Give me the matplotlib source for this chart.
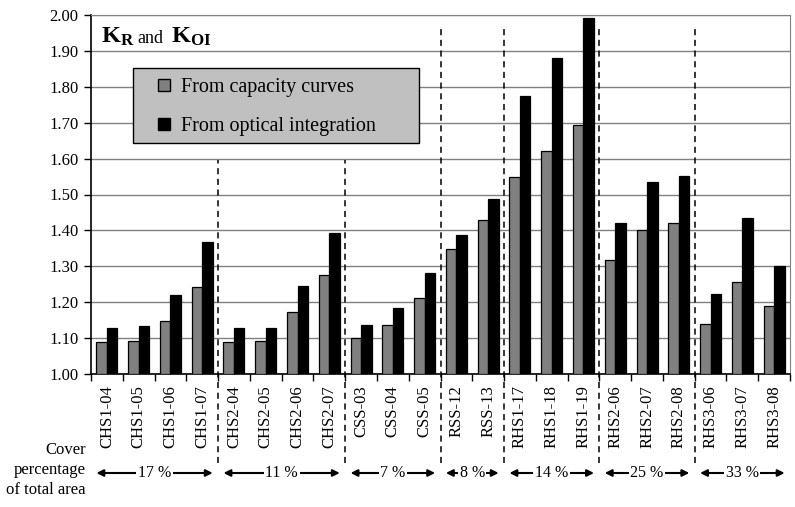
import numpy as np
import matplotlib
matplotlib.use("Agg")
import matplotlib.pyplot as plt
from matplotlib.patches import Rectangle, Patch

plt.rcParams["font.family"] = ["Liberation Serif", "DejaVu Serif"]
plt.rcParams["mathtext.fontset"] = "custom"
plt.rcParams["mathtext.rm"] = "Liberation Serif"
plt.rcParams["mathtext.bf"] = "Liberation Serif:bold"

samples = ["CHS1-04", "CHS1-05", "CHS1-06", "CHS1-07",
           "CHS2-04", "CHS2-05", "CHS2-06", "CHS2-07",
           "CSS-03", "CSS-04", "CSS-05",
           "RSS-12", "RSS-13",
           "RHS1-17", "RHS1-18", "RHS1-19",
           "RHS2-06", "RHS2-07", "RHS2-08",
           "RHS3-06", "RHS3-07", "RHS3-08"]
k_capacity = [1.088, 1.092, 1.147, 1.241,
              1.088, 1.092, 1.172, 1.275,
              1.099, 1.136, 1.212,
              1.348, 1.428,
              1.548, 1.621, 1.694,
              1.318, 1.402, 1.421,
              1.139, 1.256, 1.190]
k_optical = [1.129, 1.133, 1.220, 1.367,
             1.129, 1.129, 1.246, 1.392,
             1.136, 1.184, 1.282,
             1.388, 1.487,
             1.775, 1.881, 1.991,
             1.421, 1.534, 1.552,
             1.224, 1.435, 1.300]
# first sample index, last sample index, cover percentage
group_first = [0, 4, 8, 11, 13, 16, 19]
group_last = [3, 7, 10, 12, 15, 18, 21]
group_cover = ["17 %", "11 %", "7 %", "8 %", "14 %", "25 %", "33 %"]

W, H = 795, 507
fx = lambda px: px / W
fy = lambda py: 1 - py / H

fig = plt.figure(figsize=(7.95, 5.07), dpi=100)
ax = fig.add_axes([fx(91), fy(374), (790 - 91) / W, (374 - 15) / H])

x = np.arange(len(samples))
bw = 0.33
ax.bar(x - bw / 2, np.array(k_capacity) - 1, bw, bottom=1, color="#808080",
       edgecolor="black", linewidth=0.9, zorder=3)
ax.bar(x + bw / 2, np.array(k_optical) - 1, bw, bottom=1, color="black",
       edgecolor="black", linewidth=0.9, zorder=3)

ax.set_xlim(-0.5, len(samples) - 0.5)
ax.set_ylim(1.0, 2.0)
ax.set_yticks(np.arange(1.0, 2.001, 0.1))
ax.set_yticklabels(["%.2f" % v for v in np.arange(1.0, 2.001, 0.1)], fontsize=12)
ax.set_xticks(x)
ax.set_xticklabels(samples, rotation=90, fontsize=12, va="top", ha="center")
ax.set_xticks(np.arange(-0.5, len(samples), 1.0), minor=True)
ax.tick_params(axis="x", which="major", length=0, pad=8)
ax.tick_params(axis="x", which="minor", length=5, width=1, direction="out")
ax.tick_params(axis="y", length=5, width=1, direction="out", pad=4)

ax.grid(axis="y", color="#808080", linewidth=1, zorder=0)
ax.set_axisbelow(True)
for s in ["top", "right"]:
    ax.spines[s].set_color("#808080")
for s in ["left", "bottom"]:
    ax.spines[s].set_color("black")
    ax.spines[s].set_linewidth(1.2)

trans = ax.get_xaxis_transform()
y_arrow = (374 - 473) / 359
y_dash_bot = (374 - 463) / 359
for i, last in enumerate(group_last[:-1]):
    xb = last + 0.5
    top = (374 - 160) / 359 if i < 2 else (374 - 28) / 359
    ax.plot([xb, xb], [y_dash_bot, top], transform=trans, color="black",
            linestyle=(0, (4, 3)), linewidth=1.1, clip_on=False, zorder=4)

for a, b, lab in zip(group_first, group_last, group_cover):
    x0, x1 = a - 0.5 + 0.17, b + 0.5 - 0.17
    ax.annotate("", xy=(x1, y_arrow), xytext=(x0, y_arrow), xycoords=trans,
                textcoords=trans, annotation_clip=False,
                arrowprops=dict(arrowstyle="<|-|>", color="black", lw=1.5,
                                mutation_scale=10, shrinkA=0, shrinkB=0))
    ax.text((a + b) / 2, y_arrow, lab, transform=trans, ha="center", va="center",
            fontsize=11.5, zorder=6, clip_on=False,
            bbox=dict(facecolor="white", edgecolor="none", pad=1.2))

fig.text(fx(86), fy(470), "Cover\npercentage\nof total area", ha="right",
         va="center", multialignment="right", fontsize=12, linespacing=1.3)

# title
fig.text(fx(101), fy(43), r"$\mathbf{K_R}$", fontsize=17.5, va="baseline")
fig.text(fx(137), fy(43), "and", fontsize=13, va="baseline")
fig.text(fx(171), fy(43), r"$\mathbf{K_{OI}}$", fontsize=17.5, va="baseline")

# legend
ax.add_patch(Rectangle((fx(133), fy(143)), (419 - 133) / W, (143 - 68) / H,
                       transform=fig.transFigure, facecolor="#c0c0c0",
                       edgecolor="black", linewidth=1, zorder=4, clip_on=False))
handles = [Patch(facecolor="#808080", edgecolor="black", label="From capacity curves"),
           Patch(facecolor="black", edgecolor="black", label="From optical integration")]
ax.legend(handles=handles, loc="upper left", bbox_to_anchor=(fx(158), fy(78)),
          bbox_transform=fig.transFigure, frameon=False, fontsize=14.5,
          borderpad=0, borderaxespad=0, handlelength=0.6, handleheight=0.6,
          handletextpad=0.55, labelspacing=1.0)

fig.savefig("out.png", dpi=100)
